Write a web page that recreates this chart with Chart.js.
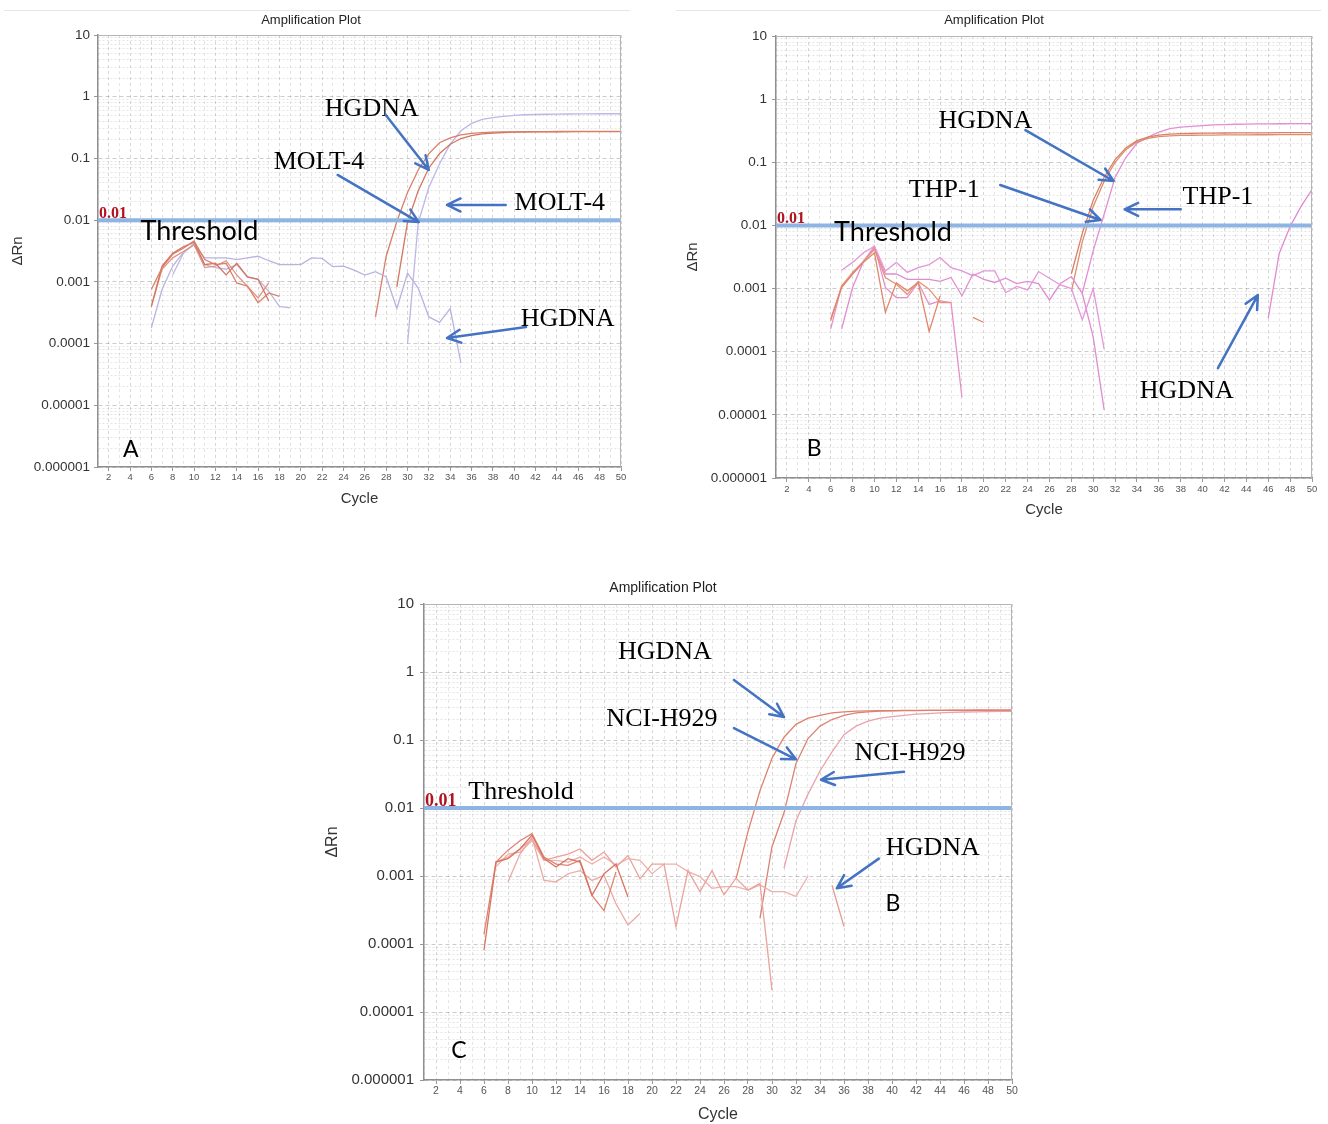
<!DOCTYPE html>
<html>
<head>
<meta charset="utf-8">
<script src="https://cdn.jsdelivr.net/npm/chart.js@4.4.0/dist/chart.umd.min.js"></script>
<style>
  html, body { margin: 0; padding: 0; background: #fff; }
  body { width: 1328px; height: 1124px; position: relative; overflow: hidden; }
  .panel { position: absolute; }
</style>
</head>
<body>
<div class="panel" style="left:0;top:0;width:640px;height:520px"><canvas id="chartA"></canvas></div>
<div class="panel" style="left:676px;top:0;width:652px;height:530px"><canvas id="chartB"></canvas></div>
<div class="panel" style="left:320px;top:570px;width:710px;height:554px"><canvas id="chartC"></canvas></div>
<script>
// axis ticks
const yDecades = [0.000001, 0.00001, 0.0001, 0.001, 0.01, 0.1, 1, 10];
const yTickLabels = ['0.000001', '0.00001', '0.0001', '0.001', '0.01', '0.1', '1', '10'];
const cycleLabels = [2, 4, 6, 8, 10, 12, 14, 16, 18, 20, 22, 24, 26, 28, 30, 32, 34, 36, 38, 40, 42, 44, 46, 48, 50];
const thresholdValue = 0.01;

// panel A (MOLT-4), values read per cycle
const aRed1 = [7.5e-4, 1.7e-3, 2.8e-3, 3.5e-3, 4.6e-3, 2.3e-3, 1.9e-3, 2.0e-3, 9.6e-4, 8.5e-4, 4.6e-4, 6.6e-4, 5.8e-4];
const aRed2 = [4.0e-4, 1.8e-3, 2.9e-3, 3.7e-3, 4.4e-3, 1.9e-3, 2.0e-3, 1.3e-3, 2.0e-3, 1.2e-3, 1.1e-3, 4.9e-4];
const aRed3 = [4.0e-4, 1.6e-3, 2.45e-3, 3.1e-3, 4.0e-3, 1.7e-3, 1.8e-3, 2.2e-3, 1.3e-3, 8.5e-4, 5.5e-4, 9.6e-4];
const aLav1 = [1.8e-4, 7.5e-4, 1.8e-3, 3.0e-3, 4.0e-3, 2.45e-3, 2.45e-3, 2.45e-3, 2.3e-3, 2.45e-3, 2.6e-3, 2.2e-3, 1.9e-3, 1.9e-3, 1.9e-3,
               2.45e-3, 2.4e-3, 1.76e-3, 1.8e-3, 1.55e-3, 1.29e-3, 1.46e-3, 1.2e-3, 3.7e-4, 1.38e-3, 7.9e-4, 2.7e-4, 2.2e-4, 3.7e-4, 4.8e-5];
const aLav2 = [1.3e-3, 2.9e-3, 4.2e-3, 1.9e-3, 1.7e-3, 1.6e-3, 1.9e-3, 1.2e-3, 1.1e-3, 7.0e-4, 4.0e-4, 3.8e-4];
const aRedAmp1 = [2.7e-4, 2.6e-3, 9.5e-3, 0.028, 0.065, 0.12, 0.18, 0.215, 0.24, 0.255, 0.262, 0.266, 0.268, 0.27, 0.271, 0.272,
                  0.272, 0.273, 0.273, 0.274, 0.274, 0.275, 0.275, 0.275];
const aRedAmp2 = [8.3e-4, 9.3e-3, 0.03, 0.07, 0.12, 0.17, 0.21, 0.235, 0.25, 0.258, 0.263, 0.266, 0.268, 0.269, 0.27, 0.27,
                  0.271, 0.271, 0.272, 0.272, 0.272, 0.272];
const aLavAmp = [1.0e-4, 9.0e-3, 0.034, 0.082, 0.17, 0.28, 0.37, 0.43, 0.46, 0.48, 0.5, 0.51, 0.515, 0.52, 0.522, 0.525,
                 0.527, 0.528, 0.53, 0.53, 0.53];

// panel B (THP-1)
const bOrange1 = [3.3e-4, 1.04e-3, 1.7e-3, 2.6e-3, 3.7e-3, 4.2e-4, 1.24e-3, 9.2e-4, 1.24e-3, 2.1e-4, 7.6e-4];
const bOrange2 = [3.1e-4, 1.1e-3, 1.8e-3, 2.7e-3, 4.2e-3, 1.5e-3, 1.17e-3, 8.1e-4, 1.3e-3, 9.8e-4, 6.0e-4, 6.0e-4];
const bOrange3 = [3.5e-4, 2.9e-4];
const bPink1 = [1.95e-3, 2.6e-3, 3.7e-3, 4.7e-3, 1.9e-3, 2.6e-3, 1.8e-3, 2.15e-3, 2.4e-3, 3.1e-3, 2.15e-3, 1.9e-3, 1.6e-3,
                1.9e-3, 1.9e-3, 8.6e-4, 1.08e-3, 9.5e-4, 1.86e-3, 1.46e-3, 1.14e-3, 1.0e-3, 3.2e-4, 1.0e-3, 1.1e-4];
const bPink2 = [2.3e-4, 1.04e-3, 2.7e-3, 4.4e-3, 1.7e-3, 1.7e-3, 1.4e-3, 1.4e-3, 1.4e-3, 1.3e-3, 1.5e-3, 7.7e-4, 1.7e-3,
                1.4e-3, 1.25e-3, 1.46e-3, 1.2e-3, 1.3e-3, 1.2e-3, 6.6e-4, 1.2e-3, 1.55e-3, 8.4e-4, 1.7e-4, 1.2e-5];
const bPink3 = [2.3e-4, 1.1e-3, 1.7e-3, 2.7e-3, 4.7e-3, 1.04e-3, 7.2e-4, 7.2e-4, 1.24e-3, 5.6e-4, 6.4e-4, 6.0e-4, 1.9e-5];
const bOrangeAmp1 = [1.7e-3, 7.5e-3, 0.025, 0.058, 0.11, 0.17, 0.22, 0.25, 0.27, 0.28, 0.285, 0.288, 0.29, 0.29, 0.291,
                     0.292, 0.292, 0.293, 0.293, 0.294, 0.294, 0.295, 0.295];
const bOrangeAmp2 = [9.0e-4, 5.5e-3, 0.02, 0.05, 0.1, 0.16, 0.21, 0.24, 0.255, 0.262, 0.266, 0.268, 0.27, 0.27, 0.271,
                     0.272, 0.272, 0.273, 0.273, 0.274, 0.274, 0.275, 0.275];
const bPinkAmp = [8.5e-4, 4.0e-3, 0.015, 0.058, 0.12, 0.2, 0.25, 0.3, 0.34, 0.36, 0.37, 0.38, 0.39, 0.395, 0.4, 0.402,
                  0.405, 0.407, 0.408, 0.41, 0.41, 0.41];
const bPinkLate = [3.4e-4, 3.6e-3, 9.6e-3, 0.02, 0.037];

// panel C (NCI-H929)
const cSal1 = [8.1e-5, 1.6e-3, 1.8e-3, 2.5e-3, 4.0e-3, 1.8e-3, 1.36e-3, 1.8e-3, 1.6e-3, 5.2e-4, 1.08e-3, 1.5e-3, 4.9e-4];
const cSal2 = [1.4e-4, 1.6e-3, 2.4e-3, 3.3e-3, 4.2e-3, 1.9e-3, 1.5e-3, 1.43e-3, 1.7e-3, 5.2e-4, 3.1e-4, 1.15e-3];
const cSal3 = [8.2e-4, 2.1e-3, 3.7e-3, 8.6e-4, 8.2e-4, 1.08e-3, 1.2e-3, 8.6e-4, 1.02e-3, 3.9e-4, 1.9e-4, 2.8e-4];
const cSal4 = [1.6e-3, 1.9e-3, 2.5e-3, 3.5e-3, 1.7e-3, 1.9e-3, 2.1e-3, 2.5e-3, 1.7e-3, 2.25e-3, 1.36e-3, 2.0e-3, 9.1e-4,
               1.5e-3, 1.5e-3, 1.8e-4, 1.2e-3, 5.9e-4, 1.2e-3, 5.3e-4, 9.3e-4, 6.2e-4, 7.8e-4, 2.1e-5];
const cSal5 = [1.36e-3, 2.1e-3, 2.25e-3, 3.3e-3, 1.7e-3, 1.7e-3, 1.6e-3, 1.9e-3, 1.5e-3, 1.9e-3, 1.45e-3, 1.8e-3, 1.7e-3,
               1.08e-3, 1.5e-3, 1.5e-3, 1.16e-3, 9.8e-4, 6.6e-4, 7.0e-4, 7.0e-4, 6.2e-4, 7.4e-4, 5.9e-4, 5.9e-4, 5.0e-4, 1.0e-3];
const cSal6 = [7.3e-4, 1.8e-4];
const cAmp1 = [9.0e-4, 4.5e-3, 0.018, 0.054, 0.11, 0.17, 0.21, 0.23, 0.25, 0.26, 0.265, 0.268, 0.27, 0.271, 0.272, 0.272,
               0.273, 0.273, 0.274, 0.274, 0.275, 0.275, 0.275, 0.275];
const cAmp2 = [2.4e-4, 2.7e-3, 8.5e-3, 0.045, 0.105, 0.16, 0.2, 0.23, 0.25, 0.26, 0.265, 0.268, 0.27, 0.27, 0.272, 0.272,
               0.273, 0.273, 0.274, 0.274, 0.275, 0.275];
const cAmp3 = [1.3e-3, 6.5e-3, 0.016, 0.035, 0.067, 0.12, 0.16, 0.19, 0.21, 0.22, 0.23, 0.24, 0.245, 0.25, 0.255, 0.258,
               0.26, 0.262, 0.263, 0.264];

const SERIF = '"Liberation Serif", "Times New Roman", serif';
const SANS = 'Lato, "Open Sans", sans-serif';
const ARIAL = '"Liberation Sans", Arial, sans-serif';

const panels = [
  {
    id: 'chartA',
    padding: { left: 0, top: 35, right: 19, bottom: 0 },
    yWidth: 98, xHeight: 53, yTick: 13.5, xTick: 9.5, yTickPad: 4, xTickPad: 1,
    axisFont: 15, xTitlePad: 12, yTitlePad: 9, titleFont: 13, redFont: 16,
    title: { x: 311, y: 20 }, rule: { y: 10, x1: 4, x2: 630 },
    series: [
      { from: 6, values: aRed1, color: '#d9806c' },
      { from: 6, values: aRed2, color: '#d4745f' },
      { from: 6, values: aRed3, color: '#e39585' },
      { from: 6, values: aLav1, color: '#b9b3e0' },
      { from: 8, values: aLav2, color: '#bcb6e2' },
      { from: 27, values: aRedAmp1, color: '#d97f68' },
      { from: 29, values: aRedAmp2, color: '#cf7760' },
      { from: 30, values: aLavAmp, color: '#bdb7e6' }
    ],
    notes: [
      { text: 'HGDNA', x: 26.65, y: 0.632, font: '26px ' + SERIF },
      { text: 'MOLT-4', x: 21.7, y: 0.0875, font: '26px ' + SERIF },
      { text: 'MOLT-4', x: 44.27, y: 0.019, font: '26px ' + SERIF },
      { text: 'HGDNA', x: 45.0, y: 2.5e-4, font: '26px ' + SERIF },
      { text: 'Threshold', x: 10.5, y: 0.0065, font: '27px ' + SANS },
      { text: 'A', x: 4.07, y: 1.95e-6, font: '23px ' + SANS }
    ],
    arrows: [
      [27.96, 0.505, 31.99, 0.065],
      [23.45, 0.054, 31.05, 0.0093],
      [39.2, 0.0176, 33.7, 0.0176],
      [41.1, 1.85e-4, 33.7, 1.23e-4]
    ]
  },
  {
    id: 'chartB',
    padding: { left: 0, top: 36, right: 16, bottom: 0 },
    yWidth: 100, xHeight: 52, yTick: 13.5, xTick: 9.5, yTickPad: 5, xTickPad: 2,
    axisFont: 15, xTitlePad: 11, yTitlePad: 8, titleFont: 13, redFont: 16,
    title: { x: 318, y: 20 }, rule: { y: 10, x1: 0, x2: 645 },
    series: [
      { from: 6, values: bOrange1, color: '#e0866a' },
      { from: 6, values: bOrange2, color: '#e69278' },
      { from: 19, values: bOrange3, color: '#e0866a' },
      { from: 7, values: bPink1, color: '#e596d6' },
      { from: 7, values: bPink2, color: '#e08cd0' },
      { from: 6, values: bPink3, color: '#e58fc8' },
      { from: 28, values: bOrangeAmp1, color: '#db7f66' },
      { from: 28, values: bOrangeAmp2, color: '#d9906e' },
      { from: 29, values: bPinkAmp, color: '#e48ed4' },
      { from: 46, values: bPinkLate, color: '#e08ad0' }
    ],
    notes: [
      { text: 'HGDNA', x: 20.14, y: 0.45, font: '26px ' + SERIF },
      { text: 'THP-1', x: 16.38, y: 0.036, font: '26px ' + SERIF },
      { text: 'THP-1', x: 41.4, y: 0.028, font: '26px ' + SERIF },
      { text: 'HGDNA', x: 38.55, y: 2.4e-5, font: '26px ' + SERIF },
      { text: 'Threshold', x: 11.7, y: 0.0079, font: '27px ' + SANS },
      { text: 'B', x: 4.48, y: 2.9e-6, font: '23px ' + SANS }
    ],
    arrows: [
      [23.8, 0.324, 31.86, 0.0506],
      [21.5, 0.0437, 30.67, 0.0122],
      [38.0, 0.018, 32.87, 0.018],
      [41.4, 5.5e-5, 45.05, 7.9e-4]
    ]
  },
  {
    id: 'chartC',
    padding: { left: 0, top: 34, right: 18, bottom: 0 },
    yWidth: 104, xHeight: 44, yTick: 15, xTick: 10.5, yTickPad: 6, xTickPad: 1,
    axisFont: 16, xTitlePad: 0, yTitlePad: 3.4, titleFont: 14, redFont: 18,
    title: { x: 343, y: 18 }, rule: null,
    series: [
      { from: 6, values: cSal1, color: '#d9735f' },
      { from: 6, values: cSal2, color: '#df8472' },
      { from: 8, values: cSal3, color: '#eba9a3' },
      { from: 7, values: cSal4, color: '#eaa39c' },
      { from: 7, values: cSal5, color: '#eeb0aa' },
      { from: 35, values: cSal6, color: '#e59a94' },
      { from: 27, values: cAmp1, color: '#e0806c' },
      { from: 29, values: cAmp2, color: '#d98474' },
      { from: 31, values: cAmp3, color: '#eaa2ac' }
    ],
    notes: [
      { text: 'HGDNA', x: 21.08, y: 1.97, font: '26px ' + SERIF },
      { text: 'NCI-H929', x: 20.83, y: 0.204, font: '26px ' + SERIF },
      { text: 'NCI-H929', x: 41.5, y: 0.065, font: '26px ' + SERIF },
      { text: 'HGDNA', x: 43.4, y: 2.6e-3, font: '26px ' + SERIF },
      { text: 'Threshold', x: 9.08, y: 0.0173, font: '26px ' + SERIF },
      { text: 'B', x: 40.08, y: 3.9e-4, font: '23px ' + SANS },
      { text: 'C', x: 3.92, y: 2.75e-6, font: '23px ' + SANS }
    ],
    arrows: [
      [26.83, 0.762, 31.0, 0.218],
      [26.83, 0.15, 32.0, 0.052],
      [41.0, 0.034, 34.08, 0.026],
      [38.9, 1.8e-3, 35.4, 6.6e-4]
    ]
  }
];

function isDecade(v) {
  return yDecades.some(d => Math.abs(v / d - 1) < 1e-9);
}

function drawArrow(ctx, x1, y1, x2, y2) {
  const ang = Math.atan2(y2 - y1, x2 - x1);
  const head = 15, spread = 0.45;
  ctx.beginPath();
  ctx.moveTo(x1, y1);
  ctx.lineTo(x2, y2);
  ctx.moveTo(x2 - head * Math.cos(ang - spread), y2 - head * Math.sin(ang - spread));
  ctx.lineTo(x2, y2);
  ctx.lineTo(x2 - head * Math.cos(ang + spread), y2 - head * Math.sin(ang + spread));
  ctx.stroke();
}

const decorPlugin = {
  id: 'decor',
  beforeDraw(chart, args, o) {
    const ctx = chart.ctx;
    ctx.save();
    if (o.rule) {
      ctx.strokeStyle = '#e6e6e6';
      ctx.lineWidth = 1;
      ctx.beginPath();
      ctx.moveTo(o.rule.x1, o.rule.y + 0.5);
      ctx.lineTo(o.rule.x2, o.rule.y + 0.5);
      ctx.stroke();
    }
    ctx.font = o.titleFont + 'px ' + ARIAL;
    ctx.fillStyle = '#222';
    ctx.textAlign = 'center';
    ctx.textBaseline = 'middle';
    ctx.fillText('Amplification Plot', o.title.x, o.title.y);
    ctx.restore();
  },
  afterDatasetsDraw(chart, args, o) {
    const { ctx, chartArea: a } = chart;
    const xs = chart.scales.x, ys = chart.scales.y;
    ctx.save();
    // top and right frame of the plot
    ctx.strokeStyle = '#b5b5b5';
    ctx.lineWidth = 1;
    ctx.beginPath();
    ctx.moveTo(a.left, a.top + 0.5);
    ctx.lineTo(a.right - 0.5, a.top + 0.5);
    ctx.lineTo(a.right - 0.5, a.bottom);
    ctx.stroke();
    // red threshold value
    ctx.font = 'bold ' + o.redFont + 'px ' + SERIF;
    ctx.fillStyle = '#b3121f';
    ctx.textAlign = 'left';
    ctx.textBaseline = 'alphabetic';
    ctx.fillText(String(thresholdValue), a.left + 1, ys.getPixelForValue(thresholdValue) - 2);
    // annotations
    ctx.fillStyle = '#000';
    ctx.textAlign = 'center';
    ctx.textBaseline = 'middle';
    for (const n of o.notes) {
      ctx.font = n.font;
      ctx.fillText(n.text, xs.getPixelForValue(n.x), ys.getPixelForValue(n.y));
    }
    ctx.strokeStyle = '#4473c3';
    ctx.lineWidth = 2.5;
    ctx.lineCap = 'round';
    ctx.lineJoin = 'round';
    for (const ar of o.arrows) {
      drawArrow(ctx, xs.getPixelForValue(ar[0]), ys.getPixelForValue(ar[1]),
                xs.getPixelForValue(ar[2]), ys.getPixelForValue(ar[3]));
    }
    ctx.restore();
  }
};

function buildChart(p) {
  const datasets = [{
    data: [{ x: 1, y: thresholdValue }, { x: 50, y: thresholdValue }],
    borderColor: '#8db4e2', borderWidth: 4, pointRadius: 0
  }];
  p.series.forEach(s => {
    datasets.push({
      data: s.values.map((v, i) => ({ x: s.from + i, y: v })),
      borderColor: s.color, borderWidth: 1.3, pointRadius: 0, tension: 0
    });
  });

  new Chart(p.id, {
    type: 'line',
    data: { datasets },
    options: {
      responsive: true,
      maintainAspectRatio: false,
      animation: false,
      events: [],
      layout: { padding: p.padding, autoPadding: false },
      plugins: {
        legend: { display: false },
        tooltip: { enabled: false },
        decor: {
          title: p.title, rule: p.rule, titleFont: p.titleFont, redFont: p.redFont,
          notes: p.notes, arrows: p.arrows
        }
      },
      scales: {
        x: {
          type: 'linear', min: 1, max: 50,
          afterFit: s => { s.height = p.xHeight; },
          ticks: {
            stepSize: 1, autoSkip: false, maxRotation: 0, padding: p.xTickPad,
            color: '#555', font: { family: ARIAL, size: p.xTick },
            callback: v => cycleLabels.includes(v) ? String(v) : ''
          },
          grid: {
            color: c => (c.tick && cycleLabels.includes(c.tick.value)) ? 'rgba(0,0,0,0.16)' : 'rgba(0,0,0,0.10)',
            tickColor: c => (c.tick && cycleLabels.includes(c.tick.value)) ? '#999' : 'rgba(0,0,0,0)',
            tickLength: 4, lineWidth: 1
          },
          border: { color: '#8f8f8f', width: 1.5, dash: c => c.tick ? [3, 3] : [] },
          title: {
            display: true, text: 'Cycle', color: '#333',
            font: { family: ARIAL, size: p.axisFont },
            padding: { top: 0, bottom: p.xTitlePad }
          }
        },
        y: {
          type: 'logarithmic', min: 0.000001, max: 10,
          afterFit: s => { s.width = p.yWidth; },
          afterBuildTicks: s => {
            const t = [];
            for (let i = 0; i < yDecades.length - 1; i++) {
              for (let m = 1; m <= 9; m++) t.push({ value: m * yDecades[i] });
            }
            t.push({ value: yDecades[yDecades.length - 1] });
            s.ticks = t;
          },
          ticks: {
            autoSkip: false, padding: p.yTickPad, color: '#333',
            font: { family: ARIAL, size: p.yTick },
            callback: v => {
              const i = yDecades.findIndex(d => Math.abs(v / d - 1) < 1e-9);
              return i >= 0 ? yTickLabels[i] : '';
            }
          },
          grid: {
            color: c => (c.tick && isDecade(c.tick.value)) ? 'rgba(0,0,0,0.2)' : 'rgba(0,0,0,0.1)',
            tickColor: c => (c.tick && isDecade(c.tick.value)) ? '#999' : 'rgba(0,0,0,0)',
            tickLength: 4, lineWidth: 1
          },
          border: { color: '#8f8f8f', width: 1.5, dash: c => c.tick ? (isDecade(c.tick.value) ? [4, 3] : [2, 2]) : [] },
          title: {
            display: true, text: 'ΔRn', color: '#333',
            font: { family: ARIAL, size: p.axisFont },
            padding: { top: p.yTitlePad, bottom: 0 }
          }
        }
      }
    },
    plugins: [decorPlugin]
  });
}

document.addEventListener('DOMContentLoaded', function () {
  panels.forEach(buildChart);
});
</script>
</body>
</html>
